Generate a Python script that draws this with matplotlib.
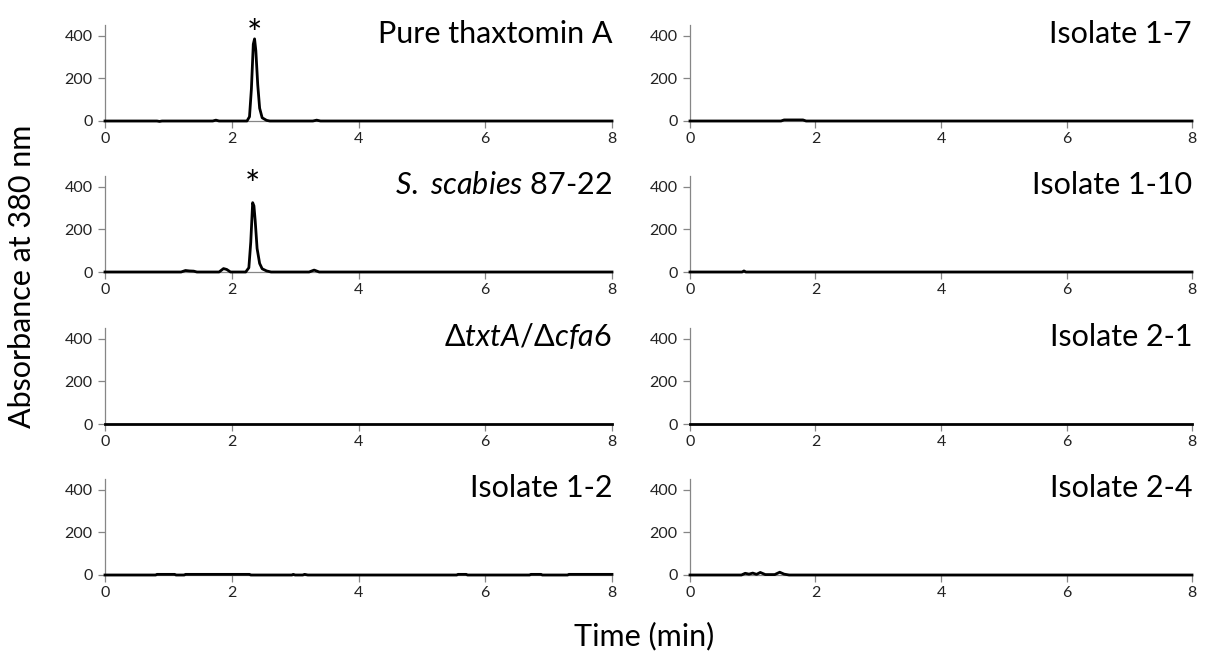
import numpy as np
import matplotlib
matplotlib.use('Agg')
import matplotlib.pyplot as plt
import matplotlib.transforms as mtransforms

plt.rcParams['font.family'] = ['Lato', 'DejaVu Sans']
plt.rcParams['mathtext.fontset'] = 'custom'
plt.rcParams['mathtext.rm'] = 'Lato'
plt.rcParams['mathtext.it'] = 'Lato:italic'

# chromatogram traces (time in min, absorbance at 380 nm)
t_pure = [0, 0.82, 0.86, 0.9, 1.7, 1.75, 1.8, 2.24, 2.28, 2.31, 2.34, 2.36, 2.38, 2.41, 2.44, 2.48, 2.55, 2.6,
          3.28, 3.34, 3.4, 8]
a_pure = [0, 0, -2, 0, 0, 4, 0, 0, 20, 150, 360, 385, 330, 170, 60, 15, 3, 0,
          0, 4, 0, 0]

t_scab = [0, 1.2, 1.27, 1.33, 1.4, 1.45, 1.8, 1.87, 1.92, 1.98, 2.22, 2.27, 2.3, 2.33, 2.35, 2.37, 2.4, 2.44,
          2.48, 2.55, 2.62, 3.22, 3.3, 3.38, 8]
a_scab = [0, 0, 7, 5, 4, 0, 0, 16, 12, 0, 0, 20, 140, 325, 310, 240, 110, 40,
          15, 5, 0, 0, 9, 0, 0]

t_delta = [0, 8]
a_delta = [0, 0]

t_iso12 = [0, 0.8, 0.82, 1.1, 1.12, 1.25, 1.27, 2.28, 2.3, 2.95, 2.97, 3.0, 3.12, 3.15, 3.2, 5.55, 5.57, 5.7, 5.72,
           6.7, 6.72, 6.88, 6.9, 7.3, 7.32, 8]
a_iso12 = [0, 0, 3, 3, 0, 0, 3, 3, 0, 0, 3, 0, 0, 3, 0, 0, 3, 3, 0,
           0, 3, 3, 0, 0, 3, 3]

t_iso17 = [0, 1.45, 1.5, 1.8, 1.85, 8]
a_iso17 = [0, 0, 5, 5, 0, 0]

t_iso110 = [0, 0.83, 0.86, 0.89, 8]
a_iso110 = [0, 0, 5, 0, 0]

t_iso21 = [0, 8]
a_iso21 = [0, 0]

t_iso24 = [0, 0.82, 0.88, 0.94, 1.0, 1.06, 1.12, 1.2, 1.35, 1.43, 1.5, 1.58, 8]
a_iso24 = [0, 0, 8, 4, 9, 3, 12, 2, 2, 13, 4, 0, 0]

labels = ['Pure thaxtomin A', r'$\mathit{S.}$ $\mathit{scabies}$ 87-22', r'$\Delta\mathit{txtA/}\Delta\mathit{cfa6}$',
          'Isolate 1-2', 'Isolate 1-7', 'Isolate 1-10', 'Isolate 2-1', 'Isolate 2-4']
traces = [(t_pure, a_pure), (t_scab, a_scab), (t_delta, a_delta), (t_iso12, a_iso12),
          (t_iso17, a_iso17), (t_iso110, a_iso110), (t_iso21, a_iso21), (t_iso24, a_iso24)]
stars = {0: 2.36, 1: 2.33}

fig = plt.figure(figsize=(12.06, 6.54), dpi=100)
W, H = 1206, 654
lefts = [105, 690]
widths = [507, 502]
zero_px = [121, 272, 424, 575]
h_px = 96
spine_c = '#868686'

for i, (lab, (tt, aa)) in enumerate(zip(labels, traces)):
    col = i // 4
    row = i % 4
    ax = fig.add_axes([lefts[col] / W, 1 - zero_px[row] / H, widths[col] / W, h_px / H])
    ax.plot(tt, aa, color='black', lw=2, solid_joinstyle='round', clip_on=False, zorder=3)
    ax.set_xlim(0, 8)
    ax.set_ylim(0, 450)
    ax.set_xticks([0, 2, 4, 6, 8])
    ax.set_yticks([0, 200, 400])
    for s in ['top', 'right']:
        ax.spines[s].set_visible(False)
    for s in ['left', 'bottom']:
        ax.spines[s].set_color(spine_c)
        ax.spines[s].set_linewidth(0.9)
    ax.tick_params(axis='x', direction='out', length=5, width=0.9, color=spine_c,
                   labelsize=11.5, labelcolor='#222222', pad=3)
    ax.tick_params(axis='y', direction='out', length=5, width=0.9, color=spine_c,
                   labelsize=11.5, labelcolor='#222222', pad=4)
    trans = mtransforms.blended_transform_factory(ax.transAxes, ax.transData)
    ax.text(1.0, 367, lab, transform=trans, ha='right', va='baseline', fontsize=22, color='black')
    if i in stars:
        ax.text(stars[i], 350, '*', ha='center', va='baseline', fontsize=26, clip_on=False)

fig.text(22 / W, 1 - 276 / H, 'Absorbance at 380 nm', rotation=90, ha='center', va='center', fontsize=22)
fig.text(644 / W, 1 - 636 / H, 'Time (min)', ha='center', va='center', fontsize=22)

fig.savefig('out.png', dpi=100)
